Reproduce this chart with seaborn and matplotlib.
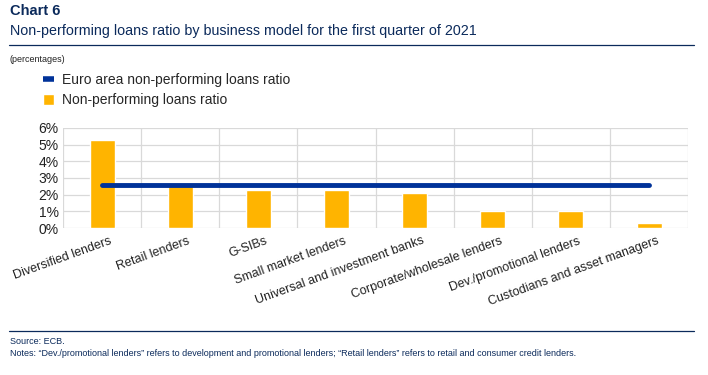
import matplotlib.pyplot as plt
import matplotlib.transforms as mtransforms
import seaborn as sns
import pandas as pd
from matplotlib.lines import Line2D
from matplotlib.patches import Patch

# Data
categories = ['Diversified lenders', 'Retail lenders', 'G-SIBs', 'Small market lenders',
              'Universal and investment banks', 'Corporate/wholesale lenders',
              'Dev./promotional lenders', 'Custodians and asset managers']
npl_ratio = [5.3, 2.7, 2.3, 2.3, 2.1, 1.0, 1.0, 0.3]
euro_area_ratio = [2.6] * len(categories)

df = pd.DataFrame({'Model': categories, 'NPL': npl_ratio, 'Euro': euro_area_ratio})

yellow = '#FFB400'
blue = '#003299'
navy = '#0B2A5B'

sns.set_style('white')
plt.rcParams['font.family'] = ['Liberation Sans', 'DejaVu Sans']

fig = plt.figure(figsize=(7.08, 3.75), dpi=100)
ax = fig.add_axes([0.089, 0.392, 0.883, 0.267])

sns.barplot(data=df, x='Model', y='NPL', color=yellow, width=0.32, saturation=1, ax=ax, zorder=2)
sns.lineplot(data=df, x='Model', y='Euro', color=blue, linewidth=3.5, sort=False, ax=ax, zorder=3)

# Axes styling
ax.set_ylim(0, 6)
ax.set_xlim(-0.5, len(categories) - 0.5)
ax.set_yticks(range(0, 7))
ax.set_yticklabels([f'{v}%' for v in range(0, 7)], fontsize=10, color='#222222')
ax.set_xlabel('')
ax.set_ylabel('')
ax.set_xticks(range(len(categories)))
ax.set_xticklabels(categories, rotation=20, ha='right', rotation_mode='anchor',
                   fontsize=9, color='#222222')
ax.tick_params(axis='both', length=0, pad=3)
offset = mtransforms.ScaledTranslation(5 / 72, -2 / 72, fig.dpi_scale_trans)
for lbl in ax.get_xticklabels():
    lbl.set_transform(lbl.get_transform() + offset)

# gridlines: horizontal at each %, vertical at category boundaries
for v in range(0, 7):
    ax.axhline(v, color='#D9D9D9', linewidth=0.9, zorder=0)
for b in range(len(categories) + 1):
    ax.axvline(b - 0.5, color='#D9D9D9', linewidth=0.9, zorder=0)
for s in ax.spines.values():
    s.set_visible(False)

# Header
fig.text(0.014, 0.99, 'Chart 6', fontsize=10.5, fontweight='bold', color=navy, va='top')
fig.text(0.014, 0.935, 'Non-performing loans ratio by business model for the first quarter of 2021',
         fontsize=10.3, color=navy, va='top')
fig.add_artist(Line2D([0.013, 0.98], [0.879, 0.879], color=navy, linewidth=0.9))
fig.text(0.014, 0.852, '(percentages)', fontsize=6.5, color='#222222', va='top')

# Legend
handles = [Line2D([], [], color=blue, linewidth=4, solid_capstyle='butt',
                  label='Euro area non-performing loans ratio'),
           Patch(facecolor=yellow, label='Non-performing loans ratio')]
fig.legend(handles=handles, loc='upper left', bbox_to_anchor=(0.053, 0.82), frameon=False,
           fontsize=10, handlelength=0.8, handleheight=0.8, handletextpad=0.55,
           labelspacing=0.45, borderaxespad=0)

# Footer
fig.add_artist(Line2D([0.013, 0.98], [0.117, 0.117], color=navy, linewidth=0.9))
fig.text(0.014, 0.1, 'Source: ECB.', fontsize=6.5, color=navy, va='top')
fig.text(0.014, 0.068, 'Notes: \u201cDev./promotional lenders\u201d refers to development and promotional lenders; '
         '\u201cRetail lenders\u201d refers to retail and consumer credit lenders.',
         fontsize=6.5, color=navy, va='top')

fig.savefig('out.png', dpi=100, facecolor='white')
